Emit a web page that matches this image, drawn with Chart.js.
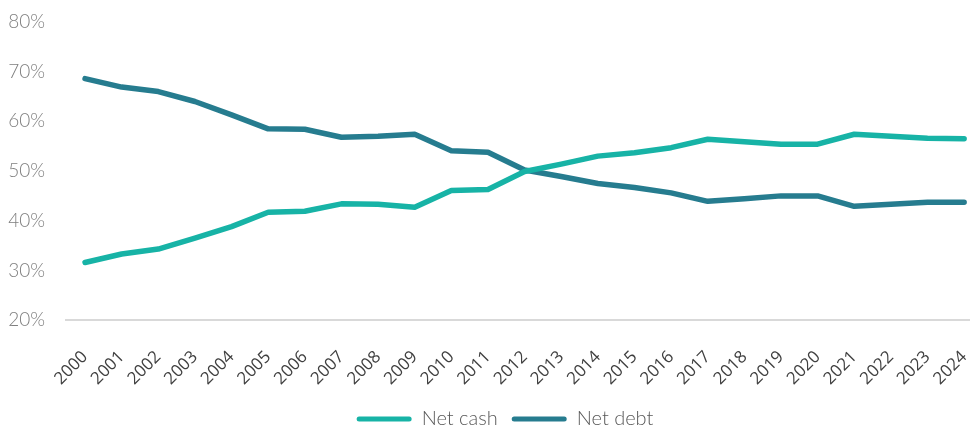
<!DOCTYPE html>
<html lang="en">
<head>
  <meta charset="UTF-8" />
  <title>Net cash vs net debt</title>
  <style>
    html, body { margin: 0; padding: 0; background: #ffffff; }
    .chart-wrap { position: relative; width: 970px; height: 428px; }
  </style>
</head>
<body>
  <div class="chart-wrap">
    <canvas id="myChart"></canvas>
  </div>

  <script src="https://cdn.jsdelivr.net/npm/chart.js"></script>
  <script>
    // Datos
    const years = ["2000", "2001", "2002", "2003", "2004", "2005", "2006", "2007", "2008", "2009",
      "2010", "2011", "2012", "2013", "2014", "2015", "2016", "2017", "2018", "2019",
      "2020", "2021", "2022", "2023", "2024"];
    const netCash = [31.6, 33.3, 34.3, 36.5, 38.8, 41.7, 41.9, 43.4, 43.3, 42.7,
      46.1, 46.3, 49.9, 51.4, 53.0, 53.7, 54.7, 56.4, 55.9, 55.4,
      55.4, 57.4, 57.0, 56.6, 56.5];
    const netDebt = [68.6, 66.9, 66.0, 64.0, 61.3, 58.5, 58.4, 56.8, 57.0, 57.4,
      54.1, 53.8, 50.2, 48.9, 47.5, 46.7, 45.6, 43.9, 44.4, 45.0,
      45.0, 42.9, 43.3, 43.7, 43.7];
    const yTicks = [20, 30, 40, 50, 60, 70, 80];

    const toPoints = (arr) => arr.map((v, i) => ({ x: i, y: v }));

    // Desplaza un poco la leyenda hacia la izquierda
    const legendShift = {
      id: "legendShift",
      afterLayout(chart) {
        if (chart.legend) {
          chart.legend.left -= 13;
          chart.legend.right -= 13;
        }
      },
    };

    const ctx = document.getElementById("myChart").getContext("2d");
    new Chart(ctx, {
      type: "line",
      data: {
        datasets: [
          {
            label: "Net cash",
            data: toPoints(netCash),
            borderColor: "#17b3a6",
            backgroundColor: "#17b3a6",
            borderWidth: 5.5,
            borderCapStyle: "round",
            borderJoinStyle: "round",
            pointRadius: 0,
            tension: 0,
          },
          {
            label: "Net debt",
            data: toPoints(netDebt),
            borderColor: "#267c8f",
            backgroundColor: "#267c8f",
            borderWidth: 5.5,
            borderCapStyle: "round",
            borderJoinStyle: "round",
            pointRadius: 0,
            tension: 0,
          },
        ],
      },
      plugins: [legendShift],
      options: {
        responsive: true,
        maintainAspectRatio: false,
        animation: false,
        layout: { padding: { left: 6, top: 0, right: 0, bottom: -11 } },
        plugins: {
          tooltip: { enabled: false },
          legend: {
            position: "bottom",
            fullSize: false,
            labels: {
              boxWidth: 55,
              boxHeight: 5,
              padding: 14,
              color: "#595959",
              font: { family: "Lato", size: 20, weight: "300" },
              generateLabels(chart) {
                return chart.data.datasets.map((ds, i) => ({
                  text: ds.label,
                  fillStyle: ds.borderColor,
                  strokeStyle: ds.borderColor,
                  lineWidth: 0,
                  borderRadius: 2.5,
                  fontColor: "#595959",
                  hidden: !chart.isDatasetVisible(i),
                  datasetIndex: i,
                }));
              },
            },
          },
        },
        scales: {
          x: {
            type: "linear",
            min: -0.52,
            max: 24.16,
            grid: { display: false },
            border: { display: true, color: "#d9d9d9", width: 2 },
            afterBuildTicks(scale) {
              scale.ticks = years.map((y, i) => ({ value: i }));
            },
            afterFit(scale) {
              // los años giran hacia dentro: no hace falta margen lateral
              scale.paddingLeft = 0;
              scale.paddingRight = 0;
              scale.height -= 13;
            },
            ticks: {
              autoSkip: false,
              minRotation: 45,
              maxRotation: 45,
              padding: 19,
              color: "#404040",
              font: { family: "Open Sans", size: 17 },
              callback: (v) => years[v],
            },
          },
          y: {
            min: 20,
            max: 80,
            grid: { display: false },
            border: { display: false },
            afterBuildTicks(scale) {
              scale.ticks = yTicks.map((v) => ({ value: v }));
            },
            afterFit(scale) {
              scale.width = 60;
              scale.paddingTop = 22;
              scale.paddingBottom = 0;
            },
            ticks: {
              padding: 13,
              color: "#7f7f7f",
              font: { family: "Lato", size: 19, weight: "300" },
              callback: (v) => v + "%",
            },
          },
        },
      },
    });
  </script>
</body>
</html>
